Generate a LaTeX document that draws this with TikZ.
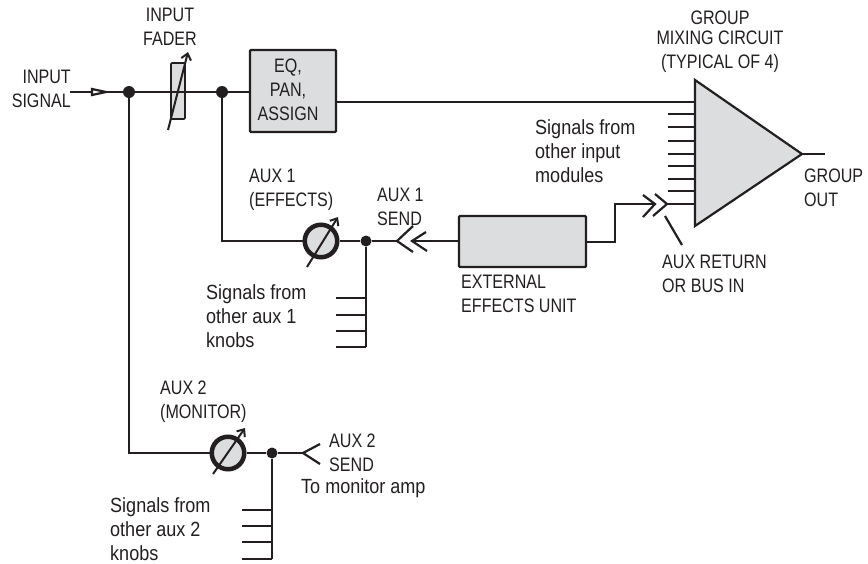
\documentclass[tikz,border=0pt]{standalone}
\usepackage{fontspec}
\setmainfont[FakeStretch=0.825]{Liberation Sans}
\newfontfamily\lowerfont[FakeStretch=0.88]{Liberation Sans}
\usetikzlibrary{arrows.meta}
\definecolor{ink}{HTML}{231F20}
\definecolor{panel}{HTML}{DCDDDE}
\tikzset{
  wire/.style={draw=ink,line width=2.2pt},
  box/.style={draw=ink,fill=panel,line width=2.4pt,rounded corners=1pt,minimum width=#1,inner sep=0pt},
  joint/.style={circle,fill=ink,inner sep=0pt,minimum size=#1},
  knob/.style={circle,draw=ink,fill=panel,line width=4.5pt,inner sep=0pt,minimum size=32.5pt},
  lab/.style={inner sep=0pt,text=ink,font=\fontsize{19.5}{24}\selectfont},
  lowerlab/.style={inner sep=0pt,text=ink,font=\lowerfont\fontsize{20.5}{24}\selectfont},
  adjust/.style={draw=ink,line width=2pt,-{Straight Barb[length=6pt,width=10pt,line width=2pt]}},
}
\begin{document}
\begin{tikzpicture}[x=1pt,y=-1pt]
\useasboundingbox[fill=white] (0,0) rectangle (868,563);
% coordinates
\coordinate (instart) at (70,92);
\node[joint=12pt] (j1) at (129,92) {};
\node[joint=12pt] (j2) at (222,92) {};
\node[box=14pt,minimum height=56pt,line width=1.7pt] (fader) at (178,91) {};
\node[box=86pt,minimum height=82pt] (eq) at (293,91) {};
\coordinate (eqout) at (336,102);
\coordinate (ta) at (695,80);
\coordinate (tb) at (695,226);
\coordinate (tc) at (802,154);
\coordinate (tri in) at (695,102);
\coordinate (gout) at (825,154);
\node[knob] (k1) at (321,241) {};
\node[joint=11pt] (j3) at (366,241) {};
\coordinate (b1) at (366,347);
\coordinate (c1) at (222,241);
\node[box=127pt,minimum height=51pt] (fx) at (522.5,241.5) {};
\coordinate (ch1) at (397,241);
\coordinate (ch1b) at (412,241);
\coordinate (fxr) at (586,242);
\coordinate (up1) at (615,242);
\coordinate (up2) at (615,204);
\coordinate (ret1) at (655,204);
\coordinate (ret2) at (667,204);
\coordinate (retin) at (695,204);
\node[knob] (k2) at (228,453) {};
\node[joint=11pt] (j4) at (272,453) {};
\coordinate (c2) at (129,453);
\coordinate (b2) at (272,559);
\coordinate (ch2) at (303,453);
% triangle
\draw[wire,fill=panel,line join=miter] (ta) -- (tc) -- (tb) -- cycle;
% main wires
\draw[wire] (instart) -- (j1) -- (j2) -- (eq.west |- j2);
\draw[wire] (eq.east |- eqout) -- (tri in);
\draw[wire] (tc) -- (gout);
\draw[wire] (j1) -- (c2) -- (k2);
\draw[wire] (j2) -- (c1) -- (k1);
\draw[wire] (k1) -- (j3) -- (ch1);
\draw[wire] (j3) -- (b1);
\draw[wire] (k2) -- (j4) -- (ch2);
\draw[wire] (j4) -- (b2);
\draw[wire] (ch1b) -- (fx.west |- ch1b);
\draw[wire] (fxr) -- (up1) -- (up2) -- (ret1);
\draw[wire] (ret2) -- (retin);
% input arrow
\draw[wire,fill=white] (92,89) -- (106,92) -- (92,95) -- cycle;
% fader and knob adjusters
\draw[adjust] (168,130) -- (188,52);
\draw[adjust] (307,267) -- (338,217);
\draw[adjust] (213,474) -- (245,428);
% chevrons
\draw[wire,line join=miter] (413,226) -- (ch1) -- (413,252);
\draw[wire,line join=miter] (426,232) -- (ch1b) -- (427,251);
\draw[wire,line join=miter] (320,444) -- (ch2) -- (320,464);
\draw[wire,line join=miter] (655,194) -- (ret2) -- (653,216);
\draw[wire,line join=miter] (643,195) -- (ret1) -- (643,217);
\coordinate (ptrA) at (665,216);
\coordinate (ptrB) at (682,245);
\draw[wire] (ptrA) -- (ptrB);
% stubs
\foreach \y in {114,127,141,154,166,179,191} \draw[wire] (668,\y) -- (695,\y);
\foreach \y in {298,315,331,347} \draw[wire] (336,\y) -- (366,\y);
\foreach \y in {510,526,542,559} \draw[wire] (242,\y) -- (272,\y);
% labels
\node[lab,align=center] (tfader) at (170,27) {INPUT\\FADER};
\node[lab,align=right,anchor=east] (tinput) at (71,89) {INPUT\\SIGNAL};
\node[lab,align=center] (teq) at (288,90) {EQ,\\PAN,\\ASSIGN};
\node[lab,align=center,anchor=north] (tgroup) at (720,11) {GROUP\\[-4pt]MIXING CIRCUIT\\(TYPICAL OF 4)\hspace{10pt}};
\node[lowerlab,align=left,anchor=west] (tsig) at (535,151) {Signals from\\other input\\modules};
\node[lab,align=left,anchor=west] (tout) at (804,188) {GROUP\\OUT};
\node[lab,align=left,anchor=west] (tret) at (662,274) {AUX RETURN\\OR BUS IN};
\node[lab,align=left,anchor=west] (ta1) at (249,190) {AUX 1\\(EFFECTS)};
\node[lab,align=left,anchor=west] (ts1) at (377,207) {AUX 1\\SEND};
\node[lab,align=left,anchor=west] (text) at (461,294) {EXTERNAL\\EFFECTS UNIT};
\node[lowerlab,align=left,anchor=west] (tk1) at (206,316) {Signals from\\other aux 1\\knobs};
\node[lab,align=left,anchor=west] (ta2) at (160,402) {AUX 2\\(MONITOR)};
\node[lab,align=left,anchor=west] (ts2) at (329,453) {AUX 2\\SEND};
\node[lowerlab,anchor=west] (tm) at (301,488) {To monitor amp};
\node[lowerlab,align=left,anchor=west] (tk2) at (110,529) {Signals from\\other aux 2\\knobs};
\end{tikzpicture}
\end{document}
